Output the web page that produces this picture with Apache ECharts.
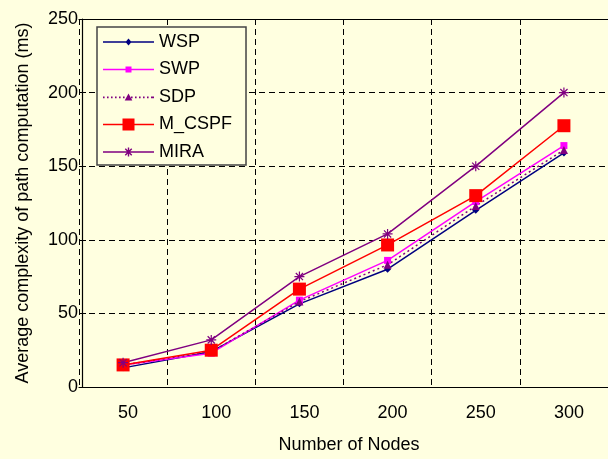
<!DOCTYPE html>
<html>
<head>
<meta charset="utf-8">
<script src="https://cdn.jsdelivr.net/npm/echarts@6/dist/echarts.min.js"></script>
<style>
html,body{margin:0;padding:0;background:#ffffe0;}
#chart{width:608px;height:459px;}
</style>
</head>
<body>
<div id="chart"></div>
<script>
const categories = ['50', '100', '150', '200', '250', '300'];
const yTicks = [0, 50, 100, 150, 200, 250];
const seriesNames = ['WSP', 'SWP', 'SDP', 'M_CSPF', 'MIRA'];
const wsp = [13, 24, 56.5, 80, 120, 159];
const swp = [15, 23, 59, 86, 126, 164];
const sdp = [15, 24, 58, 83, 123, 161];
const mcspf = [15, 25, 66.5, 96.5, 130, 177.5];
const mira = [16.5, 32, 75, 104, 150, 200];

const FONT = 'Liberation Sans, Arial, sans-serif';

// asterisk shape centred at (cx,cy) with half size r, bar half-thickness t
function asteriskPath(cx, cy, r, t) {
  const d = r * 0.72, e = t * 0.7071;
  const p = [];
  p.push(`M${cx - r},${cy - t}L${cx + r},${cy - t}L${cx + r},${cy + t}L${cx - r},${cy + t}Z`);
  p.push(`M${cx - t},${cy - r}L${cx + t},${cy - r}L${cx + t},${cy + r}L${cx - t},${cy + r}Z`);
  p.push(`M${cx - d - e},${cy - d + e}L${cx - d + e},${cy - d - e}L${cx + d + e},${cy + d - e}L${cx + d - e},${cy + d + e}Z`);
  p.push(`M${cx + d - e},${cy - d - e}L${cx + d + e},${cy - d + e}L${cx - d + e},${cy + d + e}L${cx - d - e},${cy + d - e}Z`);
  return p.join(' ');
}
function bar(w, t) { return `M0,${-t}L${w},${-t}L${w},${t}L0,${t}Z`; }
function dots(w, t, step) {
  let s = '';
  for (let x = 0; x + 2 * t <= w; x += step) s += `M${x},${-t}L${x + 2 * t},${-t}L${x + 2 * t},${t}L${x},${t}Z `;
  return s + `M${w - 2 * t},${-t}L${w},${-t}L${w},${t}L${w - 2 * t},${t}Z`;
}
const W = 51;
const asterisk = 'path://' + asteriskPath(10, 10, 10, 1.2);
const legendIcons = {
  WSP: 'path://' + bar(W, 0.75) + ` M25.5,-3.5L28.5,0L25.5,3.5L22.5,0Z`,
  SWP: 'path://' + bar(W, 0.8) + ` M22.5,-3L28.5,-3L28.5,3L22.5,3Z`,
  SDP: 'path://' + dots(W, 0.8, 4) + ` M25.5,-3.8L29.3,3L21.7,3Z`,
  M_CSPF: 'path://' + bar(W, 0.75) + ` M19.5,-6L31.5,-6L31.5,6L19.5,6Z`,
  MIRA: 'path://' + bar(W, 0.75) + ' ' + asteriskPath(25.5, 0, 4.5, 0.7)
};

const chart = echarts.init(document.getElementById('chart'), null, {renderer: 'canvas'});
const dashed = {show: true, lineStyle: {color: '#000', type: [6, 4], width: 1}};

function mk(name, data, color, symbol, size, lineType) {
  return {
    name: name, type: 'line', data: data,
    symbol: symbol, symbolSize: size,
    itemStyle: {color: color},
    lineStyle: {color: color, width: 1.5, type: lineType || 'solid'},
    emphasis: {disabled: true}, animation: false
  };
}

chart.setOption({
  backgroundColor: '#ffffe0',
  animation: false,
  textStyle: {fontFamily: FONT},
  grid: {left: 79, right: -4.4, top: 19, bottom: 68.3, containLabel: false},
  legend: {
    orient: 'vertical', left: 97, top: 27,
    data: seriesNames.map(n => ({name: n, icon: legendIcons[n]})),
    symbolKeepAspect: true,
    backgroundColor: '#ffffe0', borderColor: '#444', borderWidth: 1.5,
    padding: [6, 14, 4, 6],
    itemWidth: 51, itemHeight: 14, itemGap: 9.5,
    textStyle: {fontSize: 18, color: '#000', fontFamily: FONT},
    selectedMode: false
  },
  xAxis: [{
    type: 'category', data: categories, boundaryGap: true,
    axisLine: {lineStyle: {color: '#000', width: 1.2}},
    axisTick: {inside: true, length: 4, lineStyle: {color: '#000'}},
    axisLabel: {fontSize: 18, color: '#000', margin: 17, padding: [0, 0, 0, 10], fontFamily: FONT},
    splitLine: dashed,
    name: 'Number of Nodes', nameLocation: 'middle', nameGap: 49,
    nameTextStyle: {fontSize: 18, color: '#000', padding: [0, 0, 0, 11], fontFamily: FONT}
  }, {
    type: 'category', data: categories, position: 'top',
    axisLine: {lineStyle: {color: '#000', width: 1.2}},
    axisTick: {show: false}, axisLabel: {show: false}, splitLine: {show: false}
  }],
  yAxis: {
    type: 'value', min: yTicks[0], max: yTicks[yTicks.length - 1], interval: 50,
    offset: -3,
    axisLine: {show: true, lineStyle: {color: '#000', width: 1.2}},
    axisTick: {show: true, inside: true, length: 4, lineStyle: {color: '#000'}},
    axisLabel: {fontSize: 18, color: '#000', margin: 4, fontFamily: FONT},
    splitLine: dashed,
    name: 'Average complexity of path computation (ms)', nameLocation: 'middle', nameGap: 50,
    nameTextStyle: {fontSize: 18, color: '#000', fontFamily: FONT}
  },
  series: [
    mk('WSP', wsp, '#000080', 'diamond', 7),
    mk('SWP', swp, '#ff00ff', 'rect', 7),
    mk('SDP', sdp, '#800080', 'triangle', 8, [2, 3]),
    mk('M_CSPF', mcspf, '#ff0000', 'rect', 13),
    mk('MIRA', mira, '#800080', asterisk, 10)
  ]
});
</script>
</body>
</html>
